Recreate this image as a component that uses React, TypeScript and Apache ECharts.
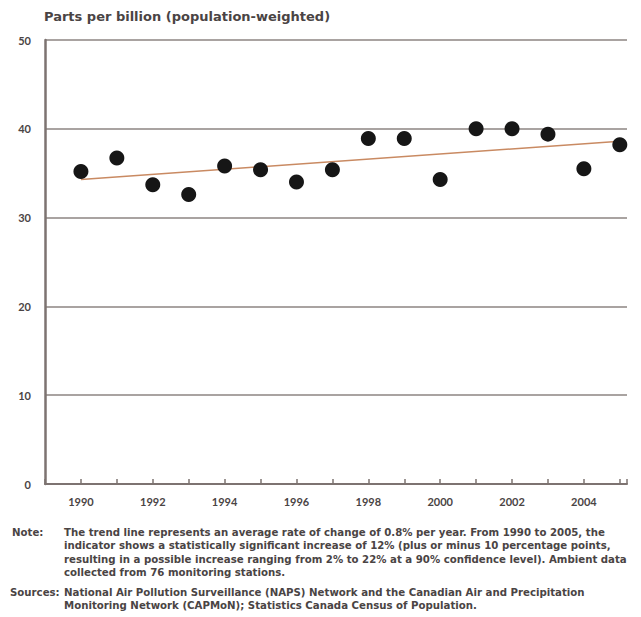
import React, { useEffect, useRef } from "react";
import * as echarts from "echarts";

const years = [1990, 1991, 1992, 1993, 1994, 1995, 1996, 1997, 1998, 1999, 2000, 2001, 2002, 2003, 2004, 2005];
const ppb = [35.2, 36.7, 33.7, 32.6, 35.8, 35.4, 34.0, 35.4, 38.9, 38.9, 34.3, 40.0, 40.0, 39.4, 35.5, 38.2];
const trendYears = [1990, 2005];
const trendValues = [34.3, 38.6];
const yTicks = [0, 10, 20, 30, 40, 50];

const titleText = "Parts per billion (population-weighted)";
const noteLines = [
  "The trend line represents an average rate of change of 0.8% per year. From 1990 to 2005, the",
  "indicator shows a statistically significant increase of 12% (plus or minus 10 percentage points,",
  "resulting in a possible increase ranging from 2% to 22% at a 90% confidence level). Ambient data",
  "collected from 76 monitoring stations.",
];
const sourceLines = [
  "National Air Pollution Surveillance (NAPS) Network and the Canadian Air and Precipitation",
  "Monitoring Network (CAPMoN); Statistics Canada Census of Population.",
];

export default function App() {
  const ref = useRef<HTMLDivElement>(null);
  useEffect(() => {
    if (!ref.current) return;
    const chart = echarts.init(ref.current, null, { renderer: "svg" });
    const font = "Lato, 'Liberation Sans', sans-serif";
    const noteFont = "'DejaVu Sans', sans-serif";
    const textColor = "#4a4444";
    const noteStyle = (t: string) => ({ text: t, fill: textColor, font: `bold 10.2px ${noteFont}` });
    const graphics: any[] = [
      {
        type: "text",
        left: 44,
        top: 10,
        style: { text: titleText, fill: textColor, font: `bold 13px ${noteFont}` },
      },
      { type: "text", left: 12, top: 527, style: noteStyle("Note:") },
      { type: "text", left: 10, top: 587, style: noteStyle("Sources:") },
    ];
    noteLines.forEach((t, i) => {
      graphics.push({ type: "text", left: 64, top: 527 + i * 13.5, style: noteStyle(t) });
    });
    sourceLines.forEach((t, i) => {
      graphics.push({ type: "text", left: 64, top: 587 + i * 13.5, style: noteStyle(t) });
    });

    chart.setOption({
      animation: false,
      backgroundColor: "#ffffff",
      grid: { left: 45, top: 40, width: 582, height: 444, containLabel: false },
      xAxis: {
        type: "value",
        min: 1989,
        max: 2005.2,
        interval: 1,
        axisLine: { show: true, lineStyle: { color: "#7d7371", width: 2 } },
        axisTick: { show: true, inside: true, length: 5, lineStyle: { color: "#7d7371", width: 1.5 } },
        splitLine: { show: false },
        axisLabel: {
          color: textColor,
          fontFamily: font,
          fontSize: 11,
          fontWeight: "bold",
          margin: 12,
          showMinLabel: true,
          showMaxLabel: true,
          formatter: (v: number) => (Number.isInteger(v) && v >= 1990 && v % 2 === 0 ? String(v) : ""),
        },
      },
      yAxis: {
        type: "value",
        min: yTicks[0],
        max: yTicks[yTicks.length - 1],
        interval: 10,
        axisLine: { show: true, lineStyle: { color: "#7d7371", width: 2.5 } },
        axisTick: { show: false },
        splitLine: { show: true, lineStyle: { color: "#a9a3a1", width: 2 } },
        axisLabel: {
          color: textColor,
          fontFamily: font,
          fontSize: 11,
          fontWeight: "bold",
          margin: 14,
          formatter: (v: number) => (v === 0 ? "0" : String(v)),
        },
      },
      series: [
        {
          type: "line",
          data: trendYears.map((y, i) => [y, trendValues[i]]),
          symbol: "none",
          lineStyle: { color: "#c98a62", width: 1.5 },
          z: 2,
        },
        {
          type: "scatter",
          data: years.map((y, i) => [y, ppb[i]]),
          symbolSize: 15,
          itemStyle: { color: "#161616", opacity: 1 },
          z: 3,
        },
      ],
      graphic: graphics,
    });
    return () => chart.dispose();
  }, []);
  return (
    <div
      ref={ref}
      style={{ position: "fixed", left: 0, top: 0, width: 641, height: 617 }}
    />
  );
}
